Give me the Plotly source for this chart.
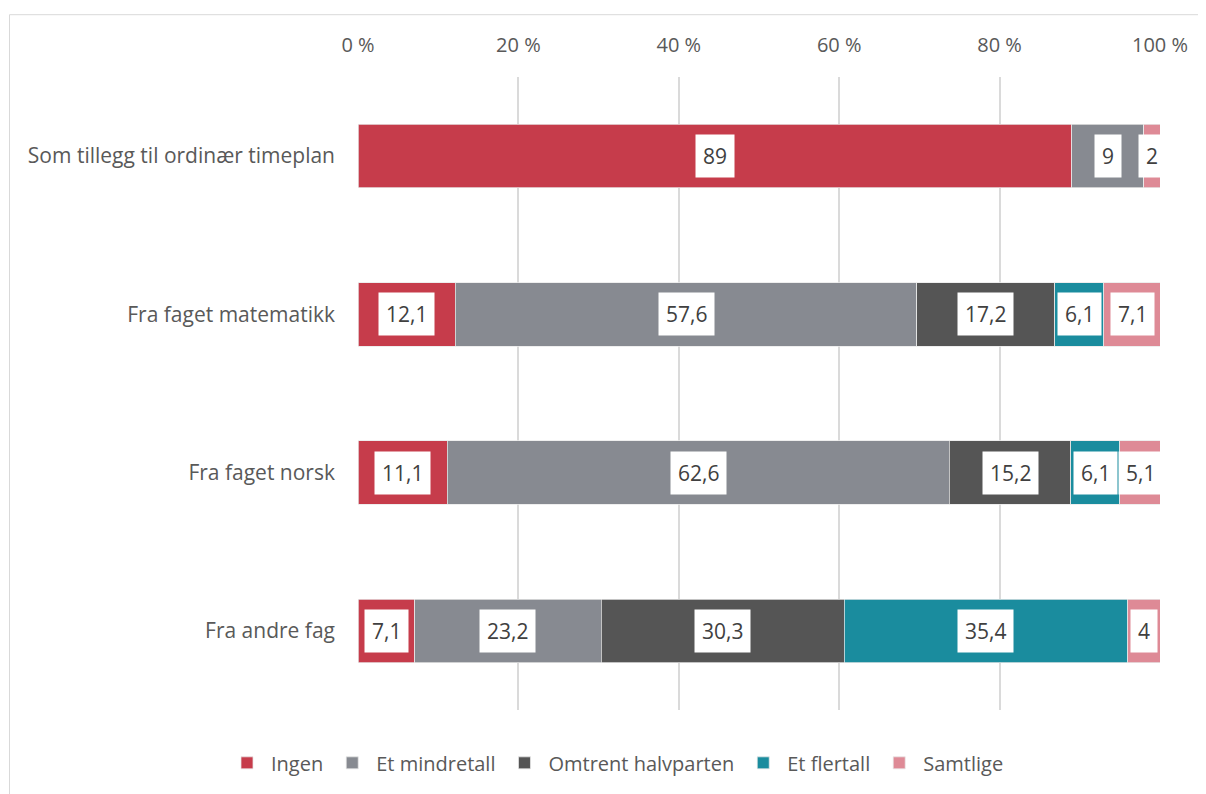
import plotly.graph_objects as go

categories = ["Som tillegg til ordinær timeplan", "Fra faget matematikk", "Fra faget norsk", "Fra andre fag"]
series_names = ["Ingen", "Et mindretall", "Omtrent halvparten", "Et flertall", "Samtlige"]
ingen = [89, 12.1, 11.1, 7.1]
mindretall = [9, 57.6, 62.6, 23.2]
halvparten = [None, 17.2, 15.2, 30.3]
flertall = [None, 6.1, 6.1, 35.4]
samtlige = [2, 7.1, 5.1, 4]
colors = ["#C63C4B", "#878A91", "#555555", "#1A8C9E", "#DE8A96"]
tick_vals = [0, 20, 40, 60, 80, 100]
tick_text = ["%d %%" % t for t in tick_vals]

values = [ingen, mindretall, halvparten, flertall, samtlige]

# page body has an 8px margin; compensate so the plot lands where the reference has it
W, H = 1198, 786
L, T = 350, 69
PR, PB = 1152, 704  # plot right / bottom in figure px

fig = go.Figure()
for name, vals, col in zip(series_names, values, colors):
    fig.add_trace(go.Bar(
        y=categories, x=[v if v is not None else 0 for v in vals], name=name,
        orientation="h", marker=dict(color=col, line=dict(color="#e8e8e8", width=0.75)),
        hoverinfo="x+name",
    ))

def fmt(v):
    return ("%g" % v).replace(".", ",")

annotations = []
for ci, cat in enumerate(categories):
    cum = 0
    for vals in values:
        v = vals[ci]
        if v is None:
            continue
        mid = min(cum + v / 2, 100)
        annotations.append(dict(
            x=mid, y=cat, xref="x", yref="y", text=fmt(v), showarrow=False,
            bgcolor="white", borderpad=7,
            font=dict(family="Open Sans", size=21, color="#404040"),
        ))
        cum += v

pw = PR - L
ph = PB - T

fig.update_layout(
    barmode="stack",
    bargap=0.6,
    width=W, height=H,
    margin=dict(l=L, r=W - PR, t=T, b=H - PB, pad=0),
    paper_bgcolor="white", plot_bgcolor="white",
    font=dict(family="Open Sans", size=20, color="#595959"),
    xaxis=dict(
        side="top", range=[0, 100], tickvals=tick_vals, ticktext=tick_text,
        showgrid=True, gridcolor="#DADADA", gridwidth=2,
        zeroline=False, showline=False, ticks="", ticklabelstandoff=20,
        tickfont=dict(size=20, color="#595959"), fixedrange=True,
    ),
    yaxis=dict(
        categoryorder="array", categoryarray=categories, autorange="reversed",
        showgrid=False, zeroline=False, showline=False, ticks="",
        ticklabelstandoff=22, tickfont=dict(size=21, color="#595959"),
    ),
    legend=dict(
        orientation="h", x=(608 - L) / pw, xanchor="center", y=(PB - 757) / ph, yanchor="middle",
        font=dict(size=20, color="#595959"), traceorder="normal", itemwidth=38,
    ),
    annotations=annotations,
    shapes=[dict(
        type="rect", xref="paper", yref="paper",
        x0=(1.5 - L) / pw, x1=1.2, y0=-0.3, y1=(PB - 6.5) / ph,
        line=dict(color="#D9D9D9", width=1), fillcolor="rgba(0,0,0,0)", layer="below",
    )],
    showlegend=True,
)

fig.write_html("out.html")
